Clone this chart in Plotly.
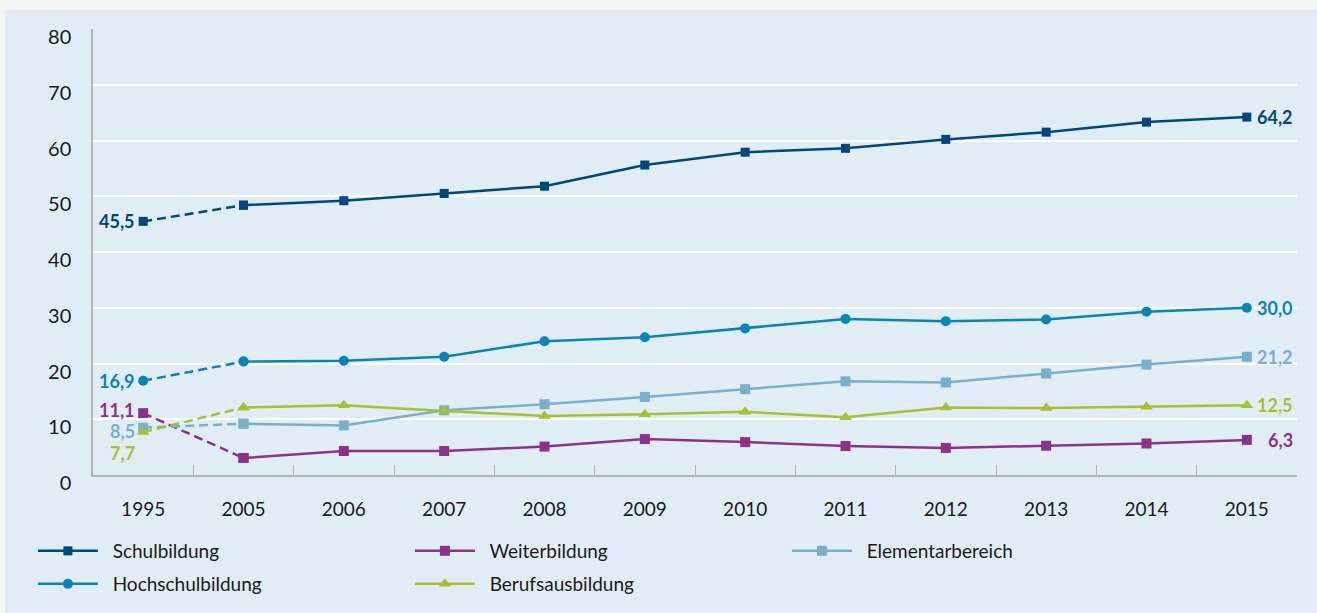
import plotly.graph_objects as go

years = ["1995", "2005", "2006", "2007", "2008", "2009", "2010", "2011", "2012", "2013", "2014", "2015"]

schulbildung = [45.5, 48.4, 49.2, 50.5, 51.8, 55.6, 57.9, 58.6, 60.2, 61.5, 63.3, 64.2]
hochschulbildung = [16.9, 20.35, 20.5, 21.2, 24.0, 24.7, 26.3, 28.0, 27.6, 27.9, 29.3, 30.0]
elementarbereich = [8.5, 9.2, 8.9, 11.6, 12.7, 14.0, 15.4, 16.8, 16.6, 18.2, 19.8, 21.2]
berufsausbildung = [7.7, 12.1, 12.5, 11.5, 10.6, 10.9, 11.35, 10.35, 12.1, 12.0, 12.25, 12.5]
weiterbildung = [11.1, 3.05, 4.3, 4.3, 5.1, 6.45, 5.9, 5.2, 4.85, 5.25, 5.65, 6.3]

start_labels = ["45,5", "11,1", "8,5", "16,9", "7,7"]
end_labels = ["64,2", "6,3", "21,2", "30,0", "12,5"]

FONT = "Lato"
series = [
    ("Schulbildung", schulbildung, "#00467f", "square", 9, "legend"),
    ("Weiterbildung", weiterbildung, "#8b3388", "square", 10, "legend"),
    ("Elementarbereich", elementarbereich, "#7aafcc", "square", 10, "legend"),
    ("Hochschulbildung", hochschulbildung, "#0a84b5", "circle", 10, "legend2"),
    ("Berufsausbildung", berufsausbildung, "#a6c232", "triangle-up", 11, "legend2"),
]

fig = go.Figure()
for name, vals, col, sym, sz, lg in series:
    fig.add_trace(go.Scatter(
        x=years[:2], y=vals[:2], mode="lines+markers", showlegend=False,
        line=dict(color=col, width=2.5, dash="9px,5px"),
        marker=dict(symbol=sym, size=sz, color=col), hoverinfo="skip"))
for name, vals, col, sym, sz, lg in series:
    fig.add_trace(go.Scatter(
        x=years[1:], y=vals[1:], mode="lines+markers", name="\u00a0\u00a0" + name, legend=lg,
        line=dict(color=col, width=2.5),
        marker=dict(symbol=sym, size=sz, color=col)))

start_yshift = [0, 3, -3, 0, -21]
for (name, vals, col, sym, sz, lg), lab, ys in zip(series, start_labels, start_yshift):
    fig.add_annotation(x=0, y=vals[0], text="<b>" + lab + "</b>", showarrow=False,
                       xanchor="right", yanchor="middle", xshift=-6, yshift=ys,
                       font=dict(family=FONT, size=18, color=col))
for (name, vals, col, sym, sz, lg), lab in zip(series, end_labels):
    fig.add_annotation(x=len(years) - 1, y=vals[-1], text="<b>" + lab + "</b>", showarrow=False,
                       xanchor="right", yanchor="middle", xshift=48,
                       font=dict(family=FONT, size=18, color=col))

BG = "#e1edf5"
fig.add_shape(type="rect", xref="paper", yref="paper", x0=-0.1, x1=1.1, y0=1.0426, y1=1.1,
              fillcolor="#f2f6f4", line=dict(width=0), layer="below")
fig.add_shape(type="rect", xref="paper", yref="paper", x0=-0.1, x1=-0.0731, y0=-0.4, y1=1.1,
              fillcolor="#f2f6f4", line=dict(width=0), layer="below")

legend_common = dict(orientation="h", xref="container", yref="container",
                     xanchor="left", yanchor="middle", entrywidth=302, entrywidthmode="pixels",
                     font=dict(family=FONT, size=19, color="#1a1a1a"), bgcolor="rgba(0,0,0,0)",
                     itemwidth=60)

fig.update_layout(
    width=1317, height=613,
    margin=dict(l=93, r=20, t=29, b=138, autoexpand=False),
    paper_bgcolor=BG, plot_bgcolor=BG,
    font=dict(family=FONT, size=19, color="#1a1a1a"),
    showlegend=True,
    legend=dict(x=0.025, y=1 - 551 / 613, **legend_common),
    legend2=dict(x=0.025, y=1 - 584 / 613, **legend_common),
    xaxis=dict(type="category", range=[-0.5, 11.5], showgrid=False, showline=True,
               linecolor="#b5b5b5", linewidth=1.5,
               ticks="inside", tickson="boundaries", ticklen=10, tickcolor="#b5b5b5",
               tickangle=0,
               tickfont=dict(family=FONT, size=19, color="#1a1a1a"), ticklabelstandoff=16,
               zeroline=False),
    yaxis=dict(range=[0, 80], dtick=10, showgrid=True, gridcolor="#ffffff", gridwidth=1.5,
               showline=True, linecolor="#b5b5b5", linewidth=1.5, zeroline=False,
               tickfont=dict(family=FONT, size=20, color="#1a1a1a"),
               ticklabelshift=8, ticklabelstandoff=16),
)

fig.write_html("out.html")
